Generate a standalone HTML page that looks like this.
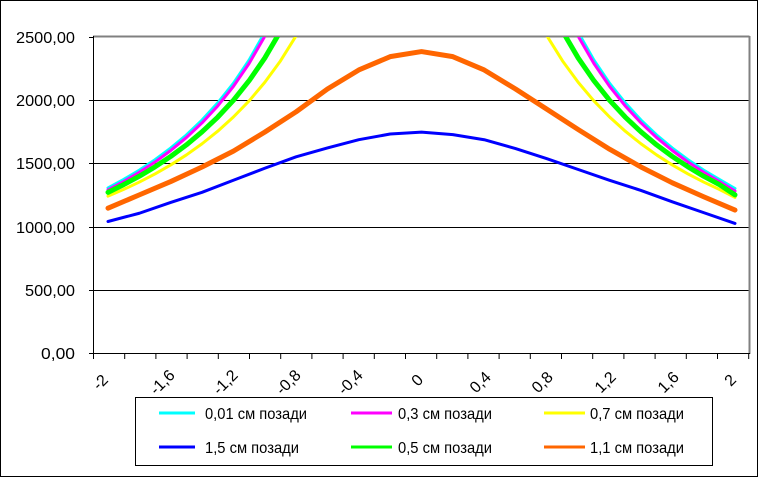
<!DOCTYPE html>
<html><head><meta charset="utf-8"><style>
html,body{margin:0;padding:0;background:#fff}
svg{display:block}
text{font-family:"Liberation Sans",Arial,sans-serif;font-size:16px;fill:#000}
</style></head><body>
<svg width="758" height="477" viewBox="0 0 758 477" xmlns="http://www.w3.org/2000/svg">
<rect x="0.5" y="0.5" width="757" height="476" fill="#fff" stroke="#000"/>
<defs><clipPath id="c"><rect x="93" y="37" width="656" height="317"/></clipPath></defs>
<g stroke="#000" stroke-width="1">
<line x1="93" y1="100.5" x2="749" y2="100.5"/>
<line x1="93" y1="163.5" x2="749" y2="163.5"/>
<line x1="93" y1="227.5" x2="749" y2="227.5"/>
<line x1="93" y1="290.5" x2="749" y2="290.5"/>
</g>
<line x1="93" y1="36.5" x2="749.5" y2="36.5" stroke="#808080" stroke-width="2"/>
<line x1="749.5" y1="36" x2="749.5" y2="354" stroke="#808080" stroke-width="2"/>
<line x1="93.5" y1="36" x2="93.5" y2="354" stroke="#000"/>
<line x1="93" y1="353.5" x2="750" y2="353.5" stroke="#000"/>
<g stroke="#000">
<line x1="89" y1="37.5" x2="93" y2="37.5"/><line x1="89" y1="100.5" x2="93" y2="100.5"/><line x1="89" y1="163.5" x2="93" y2="163.5"/><line x1="89" y1="227.5" x2="93" y2="227.5"/><line x1="89" y1="290.5" x2="93" y2="290.5"/><line x1="89" y1="353.5" x2="93" y2="353.5"/>
</g>
<g stroke="#000">
<line x1="93.5" y1="354" x2="93.5" y2="359"/><line x1="124.7" y1="354" x2="124.7" y2="359"/><line x1="155.9" y1="354" x2="155.9" y2="359"/><line x1="187.1" y1="354" x2="187.1" y2="359"/><line x1="218.3" y1="354" x2="218.3" y2="359"/><line x1="249.5" y1="354" x2="249.5" y2="359"/><line x1="280.7" y1="354" x2="280.7" y2="359"/><line x1="311.9" y1="354" x2="311.9" y2="359"/><line x1="343.1" y1="354" x2="343.1" y2="359"/><line x1="374.3" y1="354" x2="374.3" y2="359"/><line x1="405.5" y1="354" x2="405.5" y2="359"/><line x1="436.7" y1="354" x2="436.7" y2="359"/><line x1="467.9" y1="354" x2="467.9" y2="359"/><line x1="499.1" y1="354" x2="499.1" y2="359"/><line x1="530.3" y1="354" x2="530.3" y2="359"/><line x1="561.5" y1="354" x2="561.5" y2="359"/><line x1="592.7" y1="354" x2="592.7" y2="359"/><line x1="623.9" y1="354" x2="623.9" y2="359"/><line x1="655.1" y1="354" x2="655.1" y2="359"/><line x1="686.3" y1="354" x2="686.3" y2="359"/><line x1="717.5" y1="354" x2="717.5" y2="359"/><line x1="748.7" y1="354" x2="748.7" y2="359"/>
</g>
<g>
<text x="16" y="43" textLength="59" lengthAdjust="spacingAndGlyphs">2500,00</text>
<text x="16" y="106" textLength="59" lengthAdjust="spacingAndGlyphs">2000,00</text>
<text x="16" y="169" textLength="59" lengthAdjust="spacingAndGlyphs">1500,00</text>
<text x="16" y="233" textLength="59" lengthAdjust="spacingAndGlyphs">1000,00</text>
<text x="25" y="296" textLength="50" lengthAdjust="spacingAndGlyphs">500,00</text>
<text x="41" y="359" textLength="34" lengthAdjust="spacingAndGlyphs">0,00</text>
</g>
<g text-anchor="middle">
<text transform="translate(104,386) rotate(-45)">-2</text>
<text transform="translate(166,386) rotate(-45)">-1,6</text>
<text transform="translate(229,386) rotate(-45)">-1,2</text>
<text transform="translate(292,386) rotate(-45)">-0,8</text>
<text transform="translate(354,386) rotate(-45)">-0,4</text>
<text transform="translate(421,384) rotate(-45)">0</text>
<text transform="translate(484,386) rotate(-45)">0,4</text>
<text transform="translate(546,386) rotate(-45)">0,8</text>
<text transform="translate(609,386) rotate(-45)">1,2</text>
<text transform="translate(672,386) rotate(-45)">1,6</text>
<text transform="translate(734,384) rotate(-45)">2</text>
</g>
<g clip-path="url(#c)" fill="none" stroke-linejoin="round" stroke-linecap="round">
<g transform="translate(108,354) scale(31.35,-0.1268)">
<polyline vector-effect="non-scaling-stroke" stroke="#00ffff" stroke-width="3" points="0,1310 0.5,1377 1,1450 1.5,1532 2,1624 2.5,1727 3,1845 3.5,1980 4,2135 4.5,2318 5,2535 5.5,2796 6,3100"/>
<polyline vector-effect="non-scaling-stroke" stroke="#00ffff" stroke-width="3" points="20,1305 19.5,1377 19,1450 18.5,1532 18,1624 17.5,1727 17,1845 16.5,1980 16,2135 15.5,2318 15,2535 14.5,2796 14,3100"/>
<polyline vector-effect="non-scaling-stroke" stroke="#ff00ff" stroke-width="3" points="0,1295 0.5,1360 1,1433 1.5,1514 2,1605 2.5,1707 3,1823 3.5,1956 4,2110 4.5,2291 5,2505 5.5,2763 6,3050"/>
<polyline vector-effect="non-scaling-stroke" stroke="#ff00ff" stroke-width="3" points="20,1285 19.5,1360 19,1433 18.5,1514 18,1605 17.5,1707 17,1823 16.5,1956 16,2110 15.5,2291 15,2505 14.5,2763 14,3050"/>
<polyline vector-effect="non-scaling-stroke" stroke="#ffff00" stroke-width="3" points="0,1245 0.5,1298 1,1356 1.5,1420 2,1491 2.5,1570 3,1658 3.5,1757 4,1869 4.5,1996 5,2142 5.5,2311 6,2509 6.5,2742 7,3000"/>
<polyline vector-effect="non-scaling-stroke" stroke="#ffff00" stroke-width="3" points="20,1235 19.5,1298 19,1356 18.5,1420 18,1491 17.5,1570 17,1658 16.5,1757 16,1869 15.5,1996 15,2142 14.5,2311 14,2509 13.5,2742 13,3000"/>
<polyline vector-effect="non-scaling-stroke" stroke="#0000ff" stroke-width="3" points="0,1045 1,1110 2,1195 3,1275 4,1370 5,1465 6,1555 7,1625 8,1690 9,1735 10,1750 11,1730 12,1690 13,1620 14,1540 15,1455 16,1370 17,1290 18,1200 19,1115 20,1030"/>
<polyline vector-effect="non-scaling-stroke" stroke="#00ff00" stroke-width="5" points="0,1275 0.5,1336 1,1402 1.5,1476 2,1558 2.5,1649 3,1752 3.5,1868 4,2001 4.5,2155 5,2334 5.5,2545 6,2799"/>
<polyline vector-effect="non-scaling-stroke" stroke="#00ff00" stroke-width="5" points="20,1255 19.5,1336 19,1402 18.5,1476 18,1558 17.5,1649 17,1752 16.5,1868 16,2001 15.5,2155 15,2334 14.5,2545 14,2799"/>
<polyline vector-effect="non-scaling-stroke" stroke="#ff6600" stroke-width="5" points="0,1150 1,1255 2,1360 3,1475 4,1600 5,1750 6,1910 7,2090 8,2240 9,2345 10,2385 11,2345 12,2240 13,2090 14,1930 15,1770 16,1615 17,1475 18,1350 19,1240 20,1135"/>
</g>
</g>
<rect x="135.5" y="397.5" width="577" height="68" fill="#fff" stroke="#000"/>
<g stroke-width="3">
<line x1="159" y1="413" x2="195" y2="413" stroke="#00ffff"/>
<line x1="351" y1="413" x2="392" y2="413" stroke="#ff00ff"/>
<line x1="544" y1="413" x2="585" y2="413" stroke="#ffff00"/>
<line x1="159" y1="447" x2="195" y2="447" stroke="#0000ff"/>
<line x1="351" y1="447" x2="392" y2="447" stroke="#00ff00"/>
<line x1="544" y1="447" x2="585" y2="447" stroke="#ff6600"/>
</g>
<g style="font-size:15px">
<text x="205" y="419" textLength="102" lengthAdjust="spacingAndGlyphs">0,01 см позади</text>
<text x="398" y="419" textLength="94" lengthAdjust="spacingAndGlyphs">0,3 см позади</text>
<text x="590" y="419" textLength="94" lengthAdjust="spacingAndGlyphs">0,7 см позади</text>
<text x="205" y="453" textLength="94" lengthAdjust="spacingAndGlyphs">1,5 см позади</text>
<text x="398" y="453" textLength="94" lengthAdjust="spacingAndGlyphs">0,5 см позади</text>
<text x="590" y="453" textLength="94" lengthAdjust="spacingAndGlyphs">1,1 см позади</text>
</g>
</svg>
</body></html>
